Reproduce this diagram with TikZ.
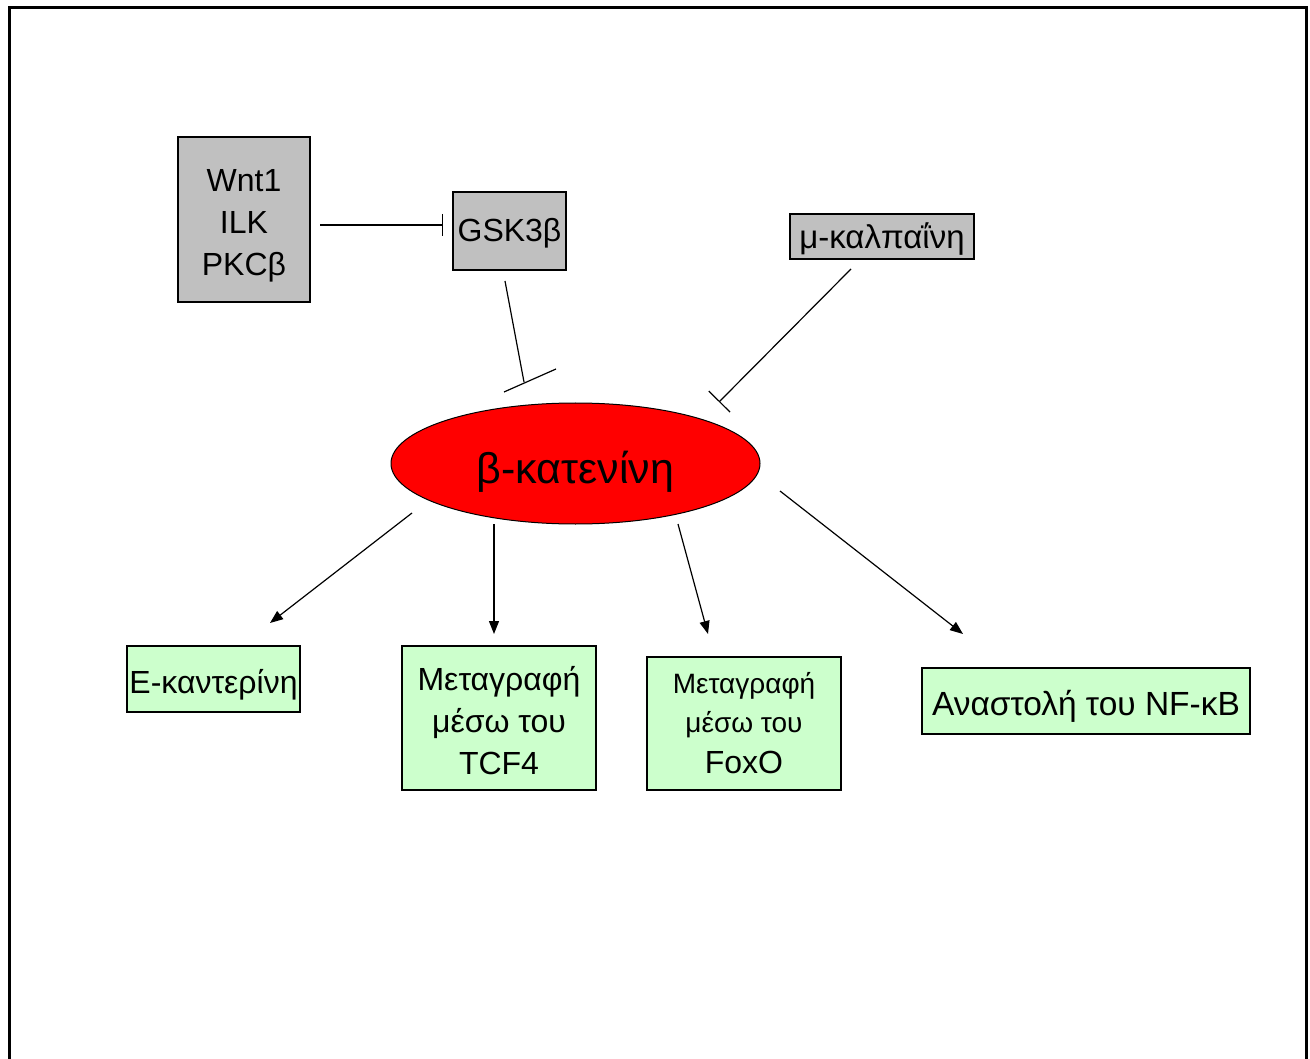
\documentclass[tikz,border=0pt]{standalone}
\usepackage{fontspec}
\setmainfont{Liberation Sans}
\usetikzlibrary{arrows.meta,shapes.geometric}

\definecolor{boxgray}{HTML}{C0C0C0}
\definecolor{boxgreen}{HTML}{CCFFCC}
\definecolor{catred}{HTML}{FF0000}

\begin{document}
\begin{tikzpicture}[x=1pt,y=-1pt,
  box/.style={draw=black, line width=1.2pt, inner sep=0pt, align=center,
              font=\fontsize{32}{42}\selectfont},
  graybox/.style={box, fill=boxgray},
  greenbox/.style={box, fill=boxgreen},
  % single-line text: baseline sits #1 below the box centre
  base/.style={text height=2*#1, text depth=0pt},
  conn/.style={line width=1.2pt},
  act/.style={conn, -{Triangle[length=13pt,width=10pt]}},
  inh/.style={conn, -{Bar[width=#1]}},
  inh/.default=22pt,
]
\useasboundingbox (0,0) rectangle (1310,1059);

% page frame (open at the bottom)
\draw[line width=3pt] (9,1080) -- (9,8) -- (1306,8) -- (1306,1080);

% upstream regulators
\node[graybox, minimum width=132pt, minimum height=165pt] (wnt) at (244,219.5)
  {\rule{0pt}{35pt}Wnt1\\ILK\\PKCβ};
\node[graybox, base=11pt, minimum width=113pt, minimum height=78pt] (gsk) at (509.5,231) {GSK3β};
\node[graybox, base=12pt, minimum width=184pt, minimum height=45pt,
      font=\fontsize{33}{42}\selectfont] (calp) at (882,236.5) {μ-καλπαΐνη};

% central node
\node[ellipse, draw=black, line width=1pt, fill=catred, inner sep=0pt, base=19.5pt,
      minimum width=369pt, minimum height=121pt,
      font=\fontsize{43}{50}\selectfont] (cat) at (575.5,463.5) {β-κατενίνη};

% downstream effects
\node[greenbox, base=14pt, minimum width=173pt, minimum height=66pt] (ecad) at (213.5,679) {Ε-καντερίνη};
\node[greenbox, minimum width=194pt, minimum height=144pt] (tcf) at (499,718)
  {\rule{0pt}{29pt}Μεταγραφή\\μέσω του\\TCF4};
\node[greenbox, minimum width=194pt, minimum height=133pt] (foxo) at (744,723.5)
  {{\fontsize{28}{37}\selectfont Μεταγραφή}\\[-3pt]{\fontsize{28}{37}\selectfont μέσω του}\\[-1pt]FoxO};
\node[greenbox, base=14pt, minimum width=328pt, minimum height=66pt,
      font=\fontsize{33.5}{42}\selectfont] (nfkb) at (1086,701) {Αναστολή του NF-κΒ};

% connector end points
\coordinate (wnt-out) at (320,225);
\coordinate (gsk-in)  at (443,225);
\coordinate (gsk-out) at (505,281);
\coordinate (gsk-hit) at (524,382);
\coordinate (barA)    at (504,392);
\coordinate (barB)    at (556,369);
\coordinate (calp-out) at (851,269);
\coordinate (calp-hit) at (719,402);
\coordinate (cat-e)   at (412,513);
\coordinate (ecad-in) at (270,623);
\coordinate (cat-t)   at (494,524);
\coordinate (tcf-in)  at (494,634);
\coordinate (cat-f)   at (678,524);
\coordinate (foxo-in) at (708,634);
\coordinate (cat-n)   at (780,491);
\coordinate (nfkb-in) at (963,634);

% inhibitions
\draw[inh=22pt] (wnt-out) -- (gsk-in);
\draw[conn] (gsk-out) -- (gsk-hit);
\draw[conn] (barA) -- (barB);
\draw[inh=30pt] (calp-out) -- (calp-hit);

% activations
\draw[act] (cat-e) -- (ecad-in);
\draw[act] (cat-t) -- (tcf-in);
\draw[act] (cat-f) -- (foxo-in);
\draw[act] (cat-n) -- (nfkb-in);
\end{tikzpicture}
\end{document}
